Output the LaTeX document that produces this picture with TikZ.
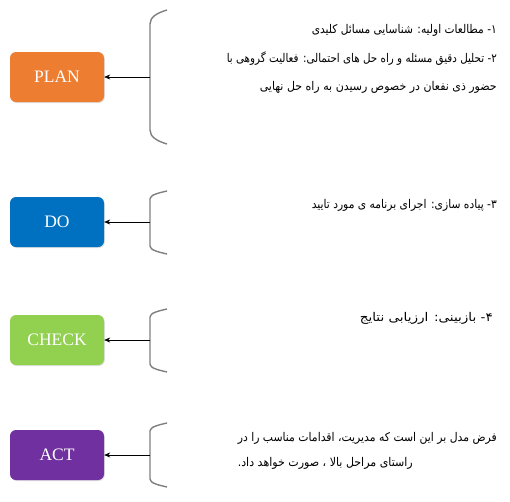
\documentclass[tikz,border=0pt]{standalone}
\usepackage{fontspec}
\usepackage{graphicx}
\setmainfont{Liberation Serif}
\newfontfamily\arabicfont[Script=Arabic]{DejaVu Sans}
\TeXXeTstate=1
\usetikzlibrary{arrows.meta,shadows}
\definecolor{planc}{HTML}{ED7D31}
\definecolor{doc}{HTML}{0070C0}
\definecolor{checkc}{HTML}{92D050}
\definecolor{actc}{HTML}{7030A0}
\definecolor{bracec}{HTML}{7F7F7F}
\newcommand{\fatext}[2]{\resizebox{#1pt}{\height}{\arabicfont\fontsize{12}{14}\selectfont #2}}
\newcommand{\fanum}[1]{\hbox{#1}\hbox{-}\space}
\tikzset{
  phase/.style={rounded corners=6pt, minimum width=94pt, minimum height=50pt, text=white,
    font=\fontsize{17.5}{20}\selectfont, inner sep=0pt,
    drop shadow={shadow xshift=0.8pt, shadow yshift=-1pt, opacity=0.25}},
  brc/.style={draw=bracec, line width=1.4pt},
  arr/.style={draw=black, line width=0.6pt, -{Stealth[length=6pt,width=5pt]}},
  fa/.style={anchor=east, inner sep=0pt}
}
\begin{document}
\begin{tikzpicture}[x=1pt,y=-1pt]
\useasboundingbox (0,0) rectangle (510,501);
% boxes
\node[phase, fill=planc] (plan) at (57,77) {PLAN};
\node[phase, fill=doc] (do) at (57,222) {DO};
\node[phase, fill=checkc] (check) at (57,340) {CHECK};
\node[phase, fill=actc] (act) at (57,455) {ACT};
% braces
\coordinate (bp) at (150,77);
\draw[brc] (167,10) .. controls (157,13) and (150,17) .. (150,24) -- (150,130) .. controls (150,137) and (157,141) .. (167,144);
\coordinate (bd) at (150,222);
\draw[brc] (167,191) .. controls (158,193) and (150,195) .. (150,199) -- (150,246) .. controls (150,250) and (158,252) .. (167,254);
\coordinate (bc) at (150,340);
\draw[brc] (167,309) .. controls (158,311) and (150,313) .. (150,317) -- (150,364) .. controls (150,368) and (158,370) .. (167,372);
\coordinate (ba) at (150,455);
\draw[brc] (167,423) .. controls (158,425) and (150,427) .. (150,431) -- (150,479) .. controls (150,483) and (158,485) .. (167,487);
% arrows
\draw[arr] (bp) -- (plan.east);
\draw[arr] (bd) -- (do.east);
\draw[arr] (bc) -- (check.east);
\draw[arr] (ba) -- (act.east);
% texts
\node[fa] (t1) at (497,30) {\fatext{185}{\beginR\fanum{۱}مطالعات اولیه: شناسایی مسائل کلیدی\endR}};
\node[fa] (t2) at (497,59) {\fatext{270}{\beginR\fanum{۲}تحلیل دقیق مسئله و راه حل های احتمالی: فعالیت گروهی با\endR}};
\node[fa] (t3) at (497,87) {\fatext{237}{\beginR حضور ذی نفعان در خصوص رسیدن به راه حل نهایی\endR}};
\node[fa] (t4) at (497,205) {\fatext{185}{\beginR\fanum{۳}پیاده سازی: اجرای برنامه ی مورد تایید\endR}};
\node[fa] (t5) at (493,318) {\fatext{133}{\beginR\fanum{۴}بازبینی: ارزیابی نتایج\endR}};
\node[fa] (t6) at (497,438) {\fatext{259}{\beginR فرض مدل بر این است که مدیریت، اقدامات مناسب را در\endR}};
\node[fa] (t7) at (413,463) {\fatext{175}{\beginR راستای مراحل بالا ، صورت خواهد داد.\endR}};
\end{tikzpicture}
\end{document}
